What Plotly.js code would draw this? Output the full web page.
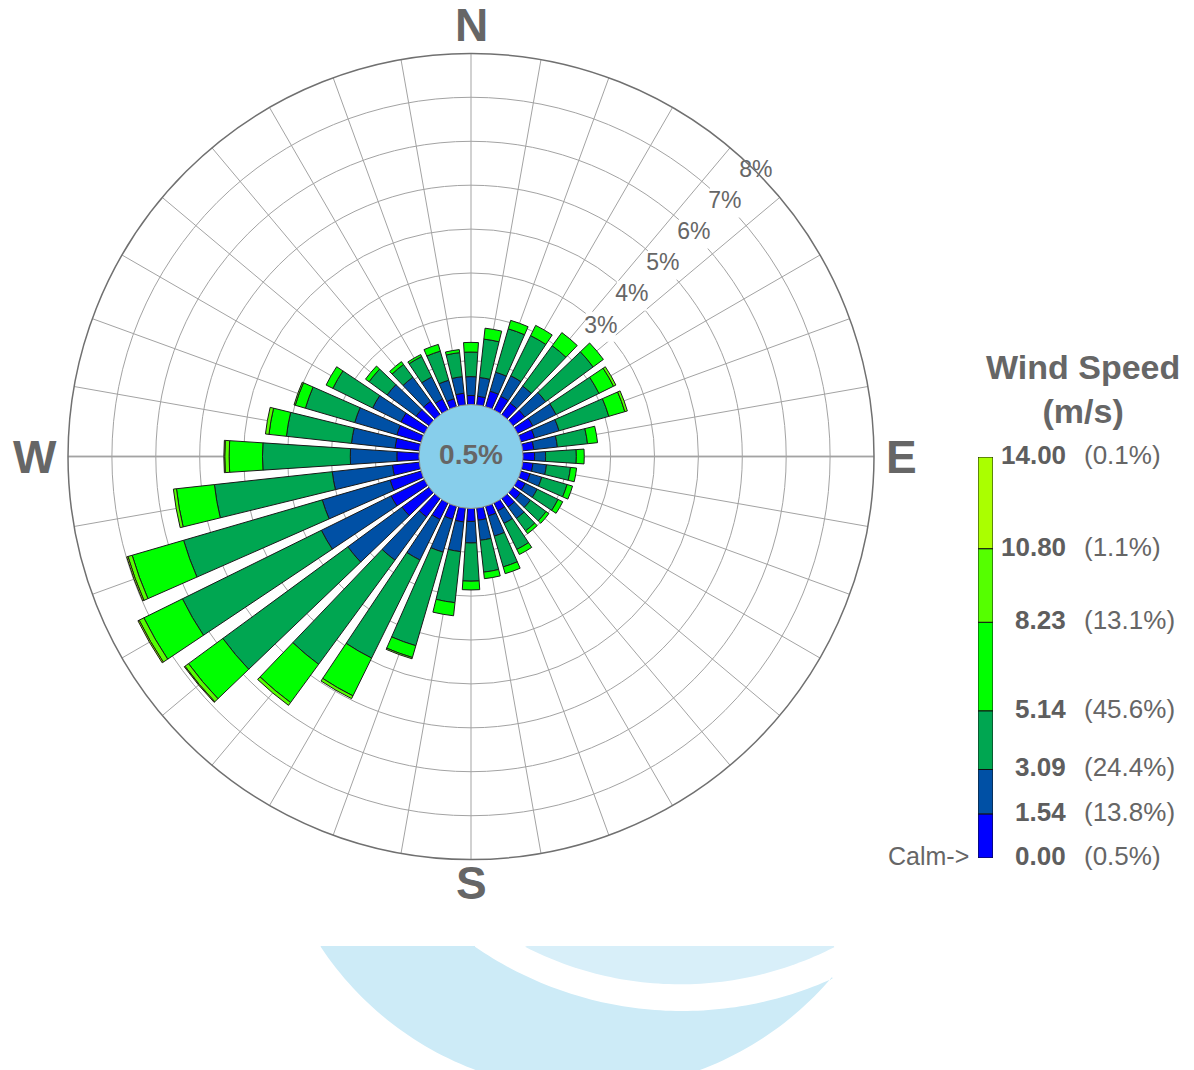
<!DOCTYPE html>
<html>
<head>
<meta charset="utf-8">
<script src="https://cdn.plot.ly/plotly-3.0.1.min.js"></script>
<style>
html,body{margin:0;padding:0;background:#ffffff;}
#chart{width:1194px;height:1070px;}
</style>
</head>
<body>
<div id="chart"></div>
<script>
// ---------------- DATA ----------------
const directions = [0,10,20,30,40,50,60,70,80,90,100,110,120,130,140,150,160,170,
                    180,190,200,210,220,230,240,250,260,270,280,290,300,310,320,330,340,350];
const compassDirs = [0, 90, 180, 270];
const compassLabels = ['N', 'E', 'S', 'W'];

const speedBreaks = [0.00, 1.54, 3.09, 5.14, 8.23, 10.80, 14.00];
const breakLabels = ['0.00','1.54','3.09','5.14','8.23','10.80','14.00'];
const breakPercents = ['(0.5%)','(13.8%)','(24.4%)','(45.6%)','(13.1%)','(1.1%)','(0.1%)'];
const binColors = ['#0000ff','#0050a5','#00a651','#00ff00','#55ff00','#aaff00'];
const calmText = '0.5%';

// frequency (%) per direction for each speed bin
const freq_000_154 = [0.21,0.20,0.37,0.35,0.33,0.34,0.39,0.33,0.26,0.27,
                      0.24,0.22,0.20,0.22,0.25,0.20,0.23,0.28,0.30,0.32,
                      0.31,0.42,0.53,0.77,0.85,0.74,0.62,0.51,0.56,0.58,
                      0.60,0.37,0.38,0.28,0.19,0.27];
const freq_154_309 = [0.43,0.43,0.45,0.52,0.48,0.59,0.59,0.58,0.54,0.25,
                      0.31,0.28,0.30,0.28,0.32,0.32,0.48,0.46,0.49,0.68,
                      0.78,1.03,1.22,1.53,1.77,1.61,1.38,1.06,1.00,1.00,
                      0.72,0.82,0.68,0.56,0.44,0.38];
const freq_309_514 = [0.56,0.88,1.03,1.02,1.14,1.34,1.09,1.18,0.69,0.70,
                      0.55,0.60,0.53,0.44,0.35,0.66,0.73,0.73,0.87,1.17,
                      2.22,2.49,2.94,3.53,3.53,3.29,2.70,2.00,1.49,1.17,
                      1.01,0.51,0.36,0.52,0.69,0.55];
const freq_514_823 = [0.22,0.25,0.20,0.26,0.37,0.29,0.37,0.38,0.23,0.18,
                      0.14,0.13,0.12,0.08,0.08,0.13,0.16,0.15,0.20,0.30,
                      0.28,0.96,1.08,0.97,0.98,1.22,0.87,0.76,0.40,0.24,
                      0.17,0.10,0.08,0.05,0.16,0.07];
const freq_823_1080 = [0,0,0,0,0,0,0.06,0.06,0,0,
                       0,0,0,0,0,0,0,0,0,0,
                       0.03,0.07,0.08,0.10,0.12,0.10,0.07,0.10,0.08,0.03,
                       0,0,0,0,0,0];
const freq_1080_1400 = [0,0,0,0,0,0,0,0,0,0,
                        0,0,0,0,0,0,0,0,0,0,
                        0,0,0,0.02,0.03,0.03,0,0.02,0,0,
                        0,0,0,0,0,0];
const freqBins = [freq_000_154, freq_154_309, freq_309_514, freq_514_823, freq_823_1080, freq_1080_1400];

const ringValues = [1,2,3,4,5,6,7,8];
const ringLabelValues = [3,4,5,6,7,8];

// ---------------- STYLE / LAYOUT ----------------
const FONT = '"Liberation Sans", Arial, Helvetica, sans-serif';
const W = 1194, H = 1070;
const TXT = '#666666';
const calmExtent = 1.18;            // radial units reserved for calm circle
const polarCx = 471, polarCy = 456.5, polarR = 403;
const px = x => x / W;
const py = y => 1 - y / H;

const traces = [];

// wind rose bars
freqBins.forEach((vals, i) => {
  traces.push({
    type: 'barpolar',
    r: vals,
    theta: directions,
    width: directions.map(() => 7.5),
    marker: {color: binColors[i], line: {color: '#1a1a1a', width: 1}},
    hoverinfo: 'skip',
    subplot: 'polar'
  });
});

// calm circle + text
traces.push({
  type: 'scatterpolar',
  mode: 'markers+text',
  r: [-calmExtent],
  theta: [0],
  marker: {size: 104, color: '#87ceeb', line: {color: '#8a8a8a', width: 1}},
  text: ['<b>' + calmText + '</b>'],
  textposition: 'middle center',
  textfont: {family: FONT, size: 28, color: TXT},
  hoverinfo: 'skip',
  cliponaxis: false,
  subplot: 'polar'
});

// radial ring labels
traces.push({
  type: 'scatterpolar',
  mode: 'markers+text',
  r: ringLabelValues,
  theta: ringLabelValues.map(() => 45),
  marker: {symbol: 'square', size: 30, color: '#ffffff', line: {width: 0}},
  text: ringLabelValues.map(v => v + '%'),
  textposition: 'middle center',
  textfont: {family: FONT, size: 23, color: TXT},
  hoverinfo: 'skip',
  cliponaxis: false,
  subplot: 'polar'
});

// legend colour bar (speed scale)
traces.push({
  type: 'bar',
  x: binColors.map(() => 0),
  base: speedBreaks.slice(0, -1),
  y: speedBreaks.slice(1).map((v, i) => v - speedBreaks[i]),
  width: binColors.map(() => 1),
  marker: {color: binColors, line: {color: '#111111', width: 1}},
  hoverinfo: 'skip',
  xaxis: 'x', yaxis: 'y'
});

// ---- annotations ----
const annotations = [];
speedBreaks.forEach((v, i) => {
  annotations.push({
    xref: 'paper', yref: 'y', x: px(1068), y: v, yshift: 2,
    xanchor: 'right', yanchor: 'middle', showarrow: false,
    text: '<b>' + breakLabels[i] + '</b>',
    font: {family: FONT, size: 26, color: '#5e5e5e'}
  });
  annotations.push({
    xref: 'paper', yref: 'y', x: px(1082), y: v, yshift: 2,
    xanchor: 'left', yanchor: 'middle', showarrow: false,
    text: breakPercents[i],
    font: {family: FONT, size: 26, color: TXT}
  });
});
annotations.push({
  xref: 'paper', yref: 'y', x: px(971), y: 0, yshift: 2,
  xanchor: 'right', yanchor: 'middle', showarrow: false,
  text: 'Calm->', font: {family: FONT, size: 25, color: TXT}
});
annotations.push({
  xref: 'paper', yref: 'paper', x: px(1083), y: py(389),
  xanchor: 'center', yanchor: 'middle', showarrow: false,
  text: '<b>Wind Speed</b><br><b>(m/s)</b>',
  font: {family: FONT, size: 34, color: TXT}
});
// compass labels placed just outside the outer ring
const compassGap = [29, 27, 23, 33];   // px from ring to label centre (N, E, S, W)
compassDirs.forEach((d, i) => {
  const a = d * Math.PI / 180;
  const rr = polarR + compassGap[i];
  annotations.push({
    xref: 'paper', yref: 'paper',
    x: px(polarCx + rr * Math.sin(a)), y: py(polarCy - rr * Math.cos(a)),
    xanchor: 'center', yanchor: 'middle', showarrow: false,
    text: '<b>' + compassLabels[i] + '</b>',
    font: {family: FONT, size: 46, color: TXT}
  });
});

// ---- decorative shapes (E-W axis line, watermark logo) ----
function arcPts(cx, cy, R, a0, a1, n) {
  const pts = [];
  for (let k = 0; k <= n; k++) {
    const a = (a0 + (a1 - a0) * k / n) * Math.PI / 180;
    pts.push([cx + R * Math.cos(a), cy + R * Math.sin(a)]);
  }
  return pts;
}
function toPath(pts) {
  return pts.map((p, k) => (k ? 'L' : 'M') + px(p[0]).toFixed(5) + ',' + py(p[1]).toFixed(5)).join(' ') + ' Z';
}
const bigPiece = [[320.7, 946], [475, 946]]
  .concat(arcPts(682, 645.2, 365.8, 124.46, 65.7, 70))
  .concat(arcPts(587.7, 770.1, 320.2, 40.26, 146.5, 90));
const lightPiece = [[527, 946], [834, 946]]
  .concat(arcPts(680, 645.3, 339, 62.94, 117.2, 60));

const shapes = [
  {type: 'path', xref: 'paper', yref: 'paper', path: toPath(bigPiece),
   fillcolor: '#cdebf7', line: {width: 0}, layer: 'below'},
  {type: 'path', xref: 'paper', yref: 'paper', path: toPath(lightPiece),
   fillcolor: '#d8eff9', line: {width: 0}, layer: 'below'},
  {type: 'line', xref: 'paper', yref: 'paper',
   x0: px(polarCx - polarR), x1: px(polarCx + polarR), y0: py(polarCy), y1: py(polarCy),
   line: {color: '#6a6a6a', width: 1.3}, layer: 'below'}
];

const layout = {
  width: W, height: H,
  margin: {l: 0, r: 0, t: 0, b: 0},
  paper_bgcolor: '#ffffff',
  plot_bgcolor: 'rgba(0,0,0,0)',
  showlegend: false,
  font: {family: FONT, color: TXT},
  barmode: 'overlay',
  polar: {
    domain: {x: [px(polarCx - polarR), px(polarCx + polarR)],
             y: [py(polarCy + polarR), py(polarCy - polarR)]},
    bgcolor: 'rgba(0,0,0,0)',
    barmode: 'stack',
    radialaxis: {
      range: [-calmExtent, 8], tickvals: ringValues, showticklabels: false,
      ticks: '', showline: false, gridcolor: '#a3a3a3', gridwidth: 1, angle: 45
    },
    angularaxis: {
      rotation: 90, direction: 'clockwise',
      tickvals: directions, showticklabels: false,
      ticks: '', gridcolor: '#a3a3a3', gridwidth: 1,
      showline: true, linecolor: '#707070', linewidth: 1.5
    }
  },
  xaxis: {domain: [px(978), px(993)], range: [-0.5, 0.5], visible: false, fixedrange: true},
  yaxis: {domain: [py(858), py(457)], range: [0, 14], visible: false, fixedrange: true},
  shapes: shapes,
  annotations: annotations
};

Plotly.newPlot('chart', traces, layout, {displayModeBar: false, staticPlot: true});
</script>
</body>
</html>
